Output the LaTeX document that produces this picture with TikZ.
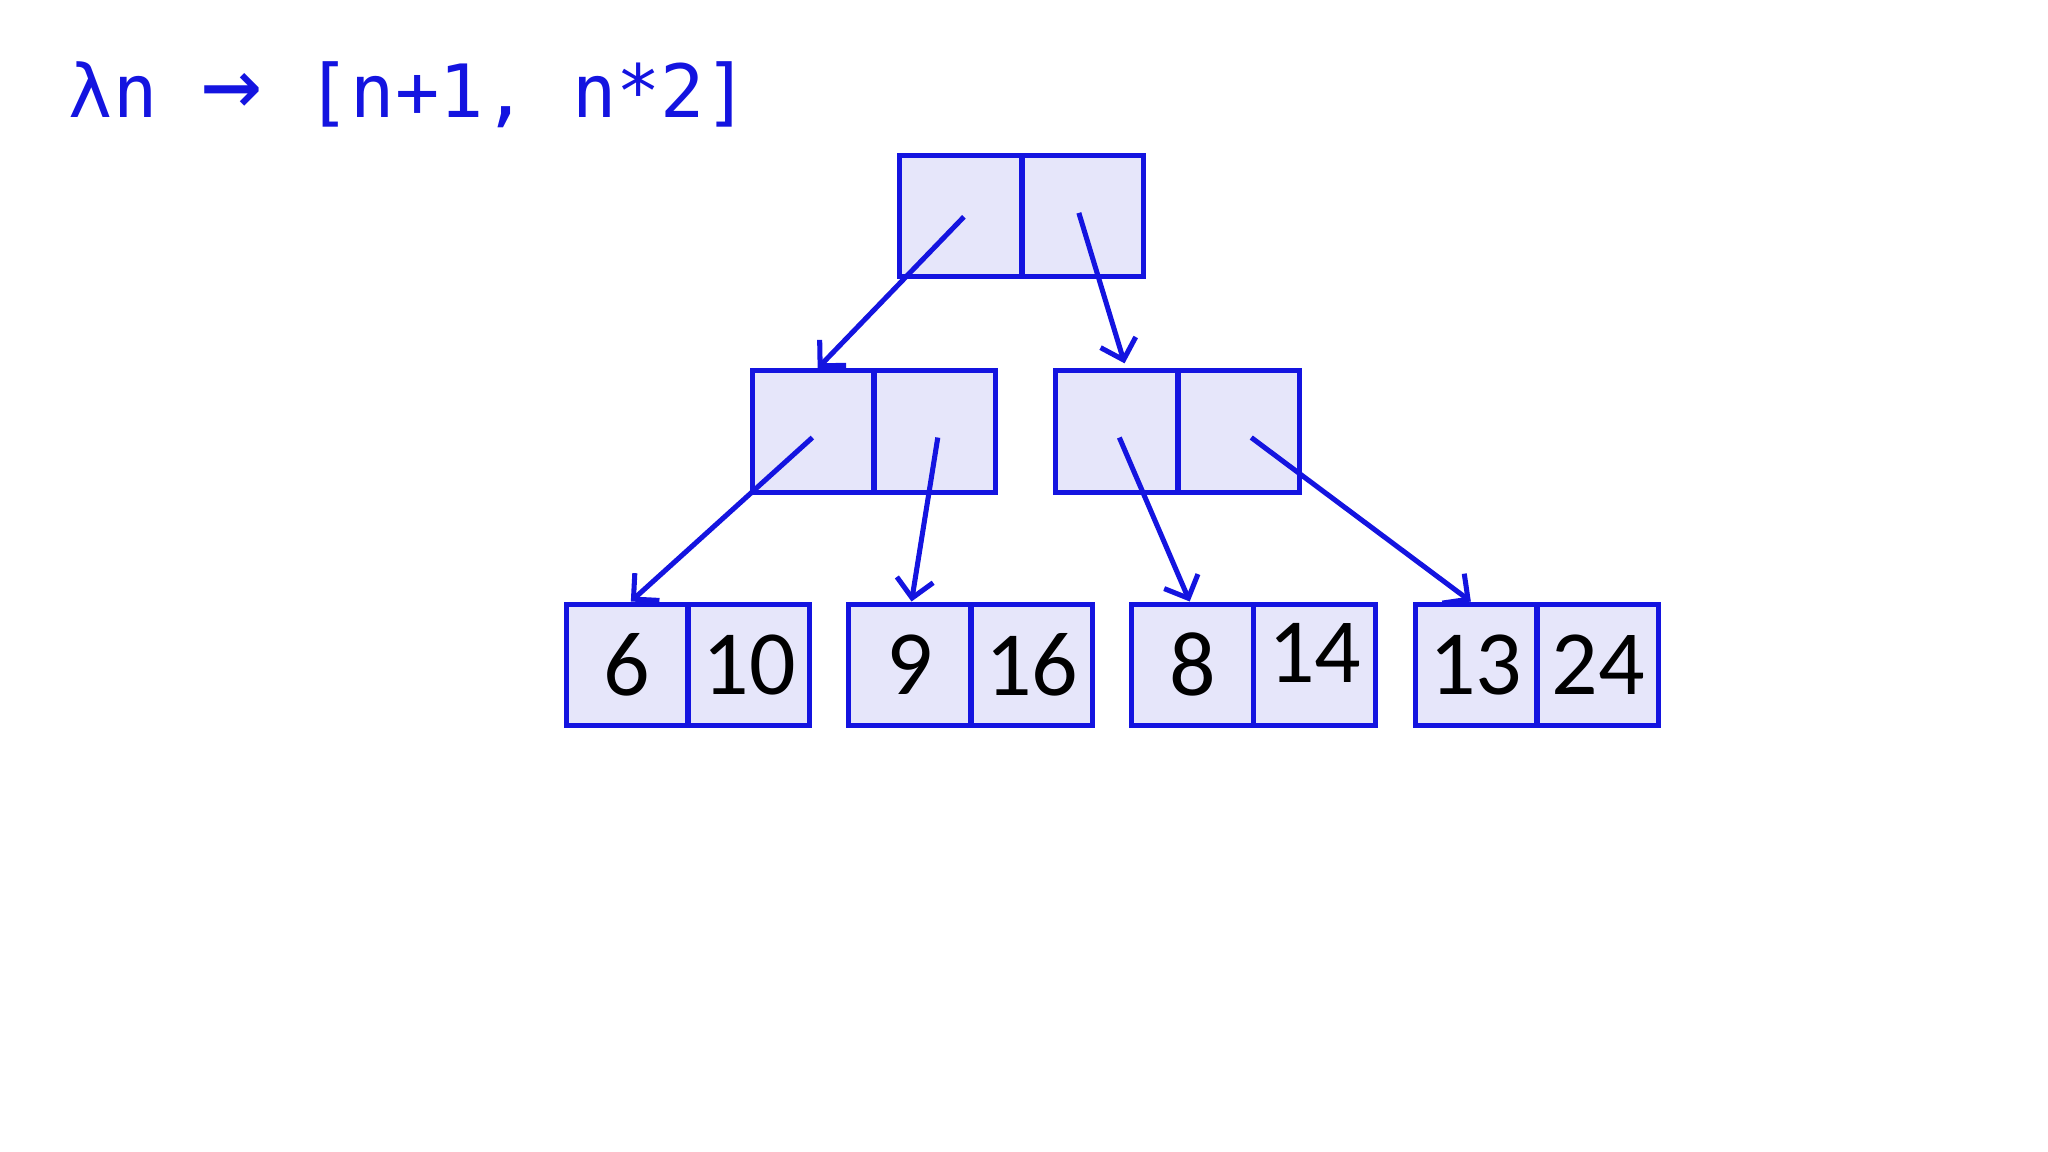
\documentclass[tikz,border=0pt]{standalone}
\usepackage{fontspec}
\setmainfont{Carlito}
\newfontfamily\codefont{DejaVu Sans Mono}
\usetikzlibrary{arrows.meta}
\definecolor{ln}{HTML}{1414E0}
\definecolor{cellfill}{HTML}{E6E6FA}
\tikzset{
  cell/.style={draw=ln, fill=cellfill, line width=1.1pt, minimum width=0.93cm, minimum height=0.93cm, inner sep=0pt, font=\fontsize{20}{22}\selectfont, text=black},
  ptr/.style={draw=ln, line width=1.1pt, -{Straight Barb[length=4pt,width=8pt]}}
}
\begin{document}
\begin{tikzpicture}[x=0.01cm,y=0.01cm]
\useasboundingbox (0,0) rectangle (1568,-882);
\node[anchor=base west, text=ln, font=\codefont\fontsize{16}{18}\selectfont, inner sep=0pt] (title) at (52,-90) {λn {\fontsize{22}{22}\selectfont →} [n+1, n*2]};
% top
\node[cell] (t1) at (735.5,-165.5) {};
\node[cell] (t2) at (829,-165.5) {};
% middle
\node[cell] (l1) at (622.5,-330.5) {};
\node[cell] (l2) at (716,-330.5) {};
\node[cell] (r1) at (855,-330.5) {};
\node[cell] (r2) at (948.5,-330.5) {};
% bottom
\node[cell] (a1) at (480,-509) {6};
\node[cell] (a2) at (573.5,-509) {10};
\node[cell] (b1) at (696.5,-509) {9};
\node[cell] (b2) at (790,-509) {16};
\node[cell] (c1) at (913,-509) {8};
\node[cell] (c2) at (1006.5,-509) {\raisebox{5pt}{14}};
\node[cell] (d1) at (1130,-509) {13};
\node[cell] (d2) at (1223.5,-509) {24};
\coordinate (t1s) at (738,-166); \coordinate (t2s) at (826,-163);
\coordinate (l1s) at (622,-335); \coordinate (l2s) at (718,-335);
\coordinate (r1s) at (857,-335); \coordinate (r2s) at (958,-335);
\draw[ptr] (t1s) -- ([xshift=1pt]l1.north);
\draw[ptr] (t2s) -- ([xshift=1.7pt,yshift=1.1pt]r1.north);
\draw[ptr] (l1s) -- ([xshift=0.85pt]a1.north);
\draw[ptr] (l2s) -- ([xshift=0.4pt]b1.north);
\draw[ptr] (r1s) -- ([xshift=-0.6pt]c1.north);
\draw[ptr] (r2s) -- ([xshift=-1.1pt]d1.north);
\end{tikzpicture}
\end{document}
